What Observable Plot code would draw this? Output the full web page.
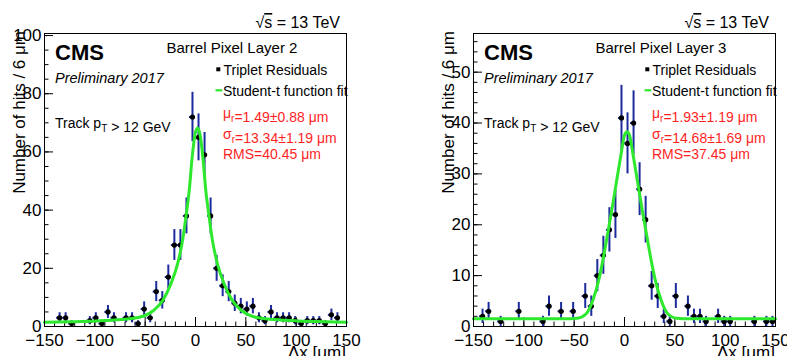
<!DOCTYPE html>
<html><head><meta charset="utf-8">
<script src="https://cdn.jsdelivr.net/npm/d3@7"></script>
<script src="https://cdn.jsdelivr.net/npm/@observablehq/plot@0.6"></script>
<style>
body{margin:0;background:#fff;}
#wrap{position:relative;width:787px;height:356px;overflow:hidden;background:#fff;}
#wrap svg{position:absolute;top:0;}
</style></head><body><div id="wrap"></div>
<script>
// ---- tick labels ----
const xTicks = [-150, -100, -50, 0, 50, 100, 150];
const layer2YTicks = [0, 20, 40, 60, 80, 100];
const layer3YTicks = [0, 10, 20, 30, 40, 50];

// ---- Barrel Pixel Layer 2: bin centres (µm) and counts per 6 µm ----
const layer2X = [-135,-129,-123,-105,-99,-93,-87,-81,-69,-63,-57,-51,-45,-39,-33,-27,-21,-15,-9,-3,3,9,15,21,27,33,39,45,51,57,63,69,75,81,87,93,99,105,111,117,123,129,135,141];
const layer2N = [3,3,1,2,3,1,5,3,3,3,1,6,3,12,9,17,28,28,38,72,65,59,38,20,14,12,8,7,6,7,3,2,5,3,3,3,2,1,2,2,2,1,4,3];
// Student-t fit curve
const layer2FitX = [-150,-123,-98,-74,-55.8,-41.75,-32.65,-24.4,-17.8,-12.85,-9.55,-6.25,-3.3,-0.5,2,4.5,7.3,10.25,13.55,16.85,21.8,28.4,36.65,45.75,59.8,78,102,127,150];
const layer2FitY = [1.5,1.65,1.9,2.4,3.2,5.5,8.9,14.7,21.5,29.6,37.6,46.7,58.2,66.0,68.2,66.0,58.2,46.7,37.6,29.6,21.5,14.7,8.9,5.5,3.2,2.4,1.9,1.65,1.5];

// ---- Barrel Pixel Layer 3 ----
const layer3X = [-141,-135,-123,-105,-81,-75,-63,-51,-39,-33,-27,-21,-15,-9,-3,3,9,15,21,27,33,39,45,51,63,69,75,81,93,99,105,129,141,147];
const layer3N = [2,3,1,3,1,4,3,3,6,4,10,14,19,22,41,36,40,27,21,8,6,2,1,6,4,2,2,1,2,1,1,1,1,1];
const layer3FitX = [-150,-100,-75,-59.5,-47.1,-38,-31.5,-25.6,-21.5,-17.35,-12.7,-8.25,-3.3,0,2.5,5,8.3,13.25,17.7,22.35,26.5,30.6,36.5,43,52.1,64.5,100,150];
const layer3FitY = [1.5,1.5,1.5,1.5,1.6,2.5,5.1,9.1,13.0,17.6,22.8,28.1,34.0,37.6,38.3,37.6,34.0,28.1,22.8,17.6,13.0,9.1,5.1,2.5,1.6,1.5,1.5,1.5];

const FONT = "'Liberation Sans', Arial, Helvetica, sans-serif";
const BLUE = "#1b2a9c", GREEN = "#2ee82e", RED = "#ff1f1f";
const binHalf = 3;

function panel(cfg) {
  const data = cfg.xs.map((x, i) => ({x, n: cfg.ns[i], e: Math.sqrt(cfg.ns[i])}));
  const fit = cfg.fitX.map((x, i) => ({x, y: cfg.fitY[i]}));
  const mL = 44, mT = 33, mB = 30, pw = 302, H = 356;
  const ph = H - mT - mB;
  const xMinor = d3.range(-150, 151, 10);
  const node = Plot.plot({
    width: cfg.width, height: H,
    marginLeft: mL, marginRight: cfg.width - mL - pw, marginTop: mT, marginBottom: mB,
    style: {fontFamily: FONT, background: "white", color: "black"},
    x: {domain: [-150, 150]},
    y: {domain: [0, cfg.yMax]},
    marks: [
      Plot.tickY(cfg.yMinor, {y: d => d, insetRight: pw - 4.5, stroke: "black"}),
      Plot.tickY(cfg.yTicks, {y: d => d, insetRight: pw - 9, stroke: "black"}),
      Plot.tickX(xMinor, {x: d => d, insetTop: ph - 4.5, stroke: "black"}),
      Plot.tickX(xTicks, {x: d => d, insetTop: ph - 9, stroke: "black"}),
      Plot.axisX({ticks: xTicks, tickSize: 0, tickPadding: 7, tickFormat: d3.format("d"), fontSize: 17, label: null}),
      Plot.axisY({ticks: cfg.yTicks, tickSize: 0, tickPadding: 3, fontSize: 17, label: null}),
      Plot.ruleX(data, {x: "x", y1: d => d.n - d.e, y2: d => d.n + d.e, stroke: BLUE, strokeWidth: 2}),
      Plot.ruleY(data, {y: "n", x1: d => d.x - binHalf, x2: d => d.x + binHalf, stroke: BLUE, strokeWidth: 2}),
      Plot.dot(data, {x: "x", y: "n", r: 2.6, fill: "black", stroke: null}),
      Plot.line(fit, {x: "x", y: "y", stroke: GREEN, strokeWidth: 3, curve: "monotone-x"}),
      Plot.frame({stroke: "black", strokeWidth: 1})
    ]
  });
  node.style.left = cfg.left + "px";
  const svg = d3.select(node);
  const g = svg.append("g").attr("font-family", FONT).attr("fill", "black");
  function text(x, y, parts, o = {}) {
    const t = g.append("text").attr("x", x).attr("y", y)
      .attr("font-size", o.size || 14).attr("fill", o.fill || "black")
      .attr("text-anchor", o.anchor || "start");
    if (o.weight) t.attr("font-weight", o.weight);
    if (o.italic) t.attr("font-style", "italic");
    if (o.transform) t.attr("transform", o.transform);
    parts.forEach(p => {
      if (typeof p === "string") t.append("tspan").text(p);
      else if (p.sub) {
        t.append("tspan").attr("font-size", p.size || 10).attr("dy", 4).text(p.sub);
        t.append("tspan").attr("dy", -4).text("");
      } else if (p.over) {
        t.append("tspan").style("text-decoration", "overline").text(p.over);
      }
    });
    return t;
  }
  // sqrt(s)
  text(340, 28, ["√", {over: "s"}, " = 13 TeV"], {size: 16, anchor: "end"});
  text(55, 60, ["CMS"], {size: 22, weight: "bold"});
  text(55, 83, ["Preliminary 2017"], {size: 14.5, italic: true});
  text(166.5, 53, [cfg.layer], {size: 15});
  g.append("rect").attr("x", 216.3).attr("y", 67.3).attr("width", 4).attr("height", 4).attr("fill", "black");
  text(223.5, 75, ["Triplet Residuals"], {size: 14});
  g.append("line").attr("x1", 215.5).attr("x2", 222.3).attr("y1", 90.3).attr("y2", 90.3).attr("stroke", GREEN).attr("stroke-width", 2.2);
  text(223, 95.5, ["Student-t function fit"], {size: 14});
  text(223, 117.5, ["μ", {sub: "r"}, "=" + cfg.mu + " μm"], {size: 14, fill: RED});
  text(223, 138.5, ["σ", {sub: "r"}, "=" + cfg.sigma + " μm"], {size: 14, fill: RED});
  text(223, 159, ["RMS=" + cfg.rms + " μm"], {size: 14, fill: RED});
  text(55, 127.5, ["Track p", {sub: "T"}, " > 12 GeV"], {size: 14});
  text(0, 0, ["Number of hits / 6 μm"], {size: 17, anchor: "end", transform: "translate(25,31) rotate(-90)"});
  text(346, 358, ["Δx [μm]"], {size: 17, anchor: "end"});
  document.getElementById("wrap").appendChild(node);
}

panel({left: 0, width: 400, xs: layer2X, ns: layer2N, fitX: layer2FitX, fitY: layer2FitY,
  yMax: 100.7, yTicks: layer2YTicks, yMinor: d3.range(0, 101, 5),
  layer: "Barrel Pixel Layer 2", mu: "1.49±0.88", sigma: "13.34±1.19", rms: "40.45"});
panel({left: 429, width: 358, xs: layer3X, ns: layer3N, fitX: layer3FitX, fitY: layer3FitY,
  yMax: 57.6, yTicks: layer3YTicks, yMinor: d3.range(0, 57, 2),
  layer: "Barrel Pixel Layer 3", mu: "1.93±1.19", sigma: "14.68±1.69", rms: "37.45"});
</script></body></html>
